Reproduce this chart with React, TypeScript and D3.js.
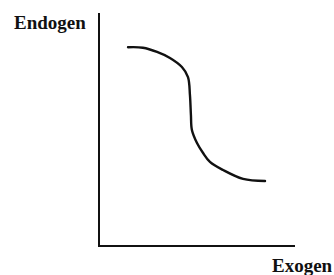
import React, { useEffect, useRef } from "react";
import * as d3 from "d3";

// curve points (axis units 0..100)
const exogen = [14.8, 22.4, 29.6, 36.2, 42.3, 45.4, 46.4, 46.9, 47.4, 50.0, 53.1, 56.6, 63.3, 73.5, 84.7];
const endogen = [85.3, 85.1, 83.3, 80.7, 76.8, 72.5, 64.8, 56.2, 49.8, 44.2, 39.9, 36.1, 32.6, 28.8, 27.9];

const xLabel = "Exogen";
const yLabel = "Endogen";

const App = () => {
  const svgRef = useRef<SVGSVGElement | null>(null);

  useEffect(() => {
    const width = 334;
    const height = 275;
    const marginLeft = 99;
    const marginRight = 39;
    const marginTop = 13;
    const marginBottom = 29;

    const x = d3
      .scaleLinear()
      .domain([0, 100])
      .range([marginLeft, width - marginRight]);
    const y = d3
      .scaleLinear()
      .domain([0, 100])
      .range([height - marginBottom, marginTop]);

    const svg = d3.select(svgRef.current);
    svg.selectAll("*").remove();
    svg
      .attr("width", width)
      .attr("height", height)
      .attr("viewBox", [0, 0, width, height].join(" "))
      .style("position", "absolute")
      .style("left", "0px")
      .style("top", "0px")
      .style("background", "#fff");

    // axes as plain lines, no ticks
    svg
      .append("path")
      .attr(
        "d",
        `M${x(0)},${y(100)}V${y(0)}H${x(100)}`
      )
      .attr("fill", "none")
      .attr("stroke", "#111")
      .attr("stroke-width", 2);

    const pts: [number, number][] = exogen.map((v, i) => [v, endogen[i]]);
    const line = d3
      .line<[number, number]>()
      .x((d) => x(d[0]))
      .y((d) => y(d[1]))
      .curve(d3.curveCatmullRom.alpha(0.5));

    svg
      .append("path")
      .datum(pts)
      .attr("d", line)
      .attr("fill", "none")
      .attr("stroke", "#111")
      .attr("stroke-width", 2.4)
      .attr("stroke-linecap", "round")
      .attr("stroke-linejoin", "round");

    const font = "'Liberation Serif', 'Times New Roman', serif";
    svg
      .append("text")
      .attr("x", 14)
      .attr("y", 29)
      .attr("font-family", font)
      .attr("font-weight", "bold")
      .attr("font-size", 19)
      .attr("fill", "#111")
      .text(yLabel);

    svg
      .append("text")
      .attr("x", 272)
      .attr("y", 272)
      .attr("font-family", font)
      .attr("font-weight", "bold")
      .attr("font-size", 19)
      .attr("fill", "#111")
      .text(xLabel);
  }, []);

  return <svg ref={svgRef} />;
};

export default App;
